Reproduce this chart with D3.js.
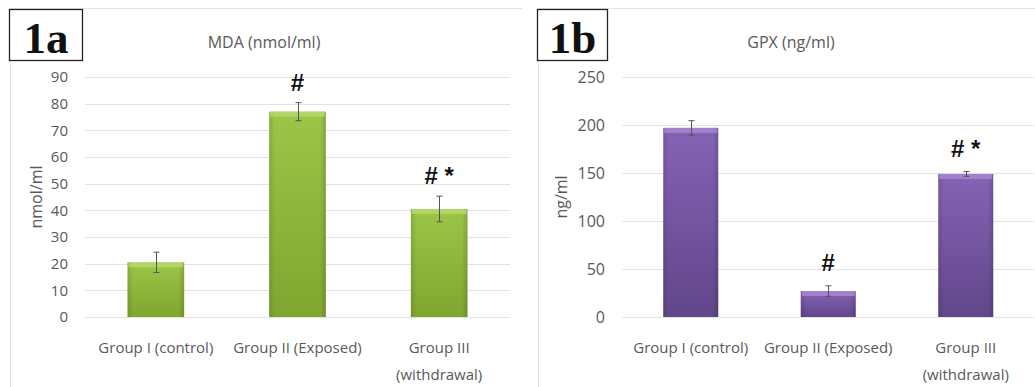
<!DOCTYPE html>
<html><head><meta charset="utf-8">
<script src="https://cdn.jsdelivr.net/npm/d3@7"></script>
<style>
body{margin:0;background:#fff;}
svg{display:block;}
</style></head>
<body><svg id="c" width="1035" height="387"></svg>
<script>
// ---- data ----
const categories = ["Group I (control)", "Group II (Exposed)", "Group III\n(withdrawal)"];
const mdaValues = [20.5, 77, 40.5];
const mdaErrors = [3.8, 3.4, 4.8];
const mdaSig = ["", "#", "# *"];
const mdaTicks = [0, 10, 20, 30, 40, 50, 60, 70, 80, 90];
const gpxValues = [197, 27, 149];
const gpxErrors = [7.5, 5.5, 2.5];
const gpxSig = ["", "#", "# *"];
const gpxTicks = [0, 50, 100, 150, 200, 250];

const SANS = "'Open Sans', Lato, sans-serif";
const svg = d3.select("#c");
const defs = svg.append("defs");

function grad(id, c0, c1) {
  const g = defs.append("linearGradient").attr("id", id).attr("x1", 0).attr("y1", 0).attr("x2", 0).attr("y2", 1);
  g.append("stop").attr("offset", "0%").attr("stop-color", c0);
  g.append("stop").attr("offset", "100%").attr("stop-color", c1);
  const h = defs.append("linearGradient").attr("id", id + "h").attr("x1", 0).attr("y1", 0).attr("x2", 1).attr("y2", 0);
  h.append("stop").attr("offset", "0%").attr("stop-color", "#000").attr("stop-opacity", 0.12);
  h.append("stop").attr("offset", "10%").attr("stop-color", "#000").attr("stop-opacity", 0);
  h.append("stop").attr("offset", "90%").attr("stop-color", "#000").attr("stop-opacity", 0);
  h.append("stop").attr("offset", "100%").attr("stop-color", "#000").attr("stop-opacity", 0.15);
}
grad("gGreen", "#9cc548", "#7fa62f");
grad("gPurple", "#8563b6", "#62468a");

function panel(opt) {
  const g = svg.append("g");
  // frame
  g.append("path").attr("d", `M${opt.frameX0},387 V${8.5} H${opt.frameX1}`)
    .attr("fill", "none").attr("stroke", "#e3e3e3").attr("stroke-width", 1);
  // label box
  g.append("rect").attr("x", opt.boxX + 0.5).attr("y", 9.5).attr("width", opt.boxW).attr("height", 51)
    .attr("fill", "#fff").attr("stroke", "#222").attr("stroke-width", 1.3);
  g.append("text").attr("x", opt.boxX + opt.boxW / 2 + 0.5).attr("y", 53).attr("text-anchor", "middle")
    .style("font-family", "'Liberation Serif','DejaVu Serif',serif")
    .attr("font-weight", "bold").attr("font-size", 45).attr("fill", "#111").text(opt.label);
  // title
  g.append("text").attr("x", opt.titleX).attr("y", 48).attr("text-anchor", "middle")
    .style("font-family", SANS).attr("font-size", opt.titleSize).attr("fill", "#595959").text(opt.title);

  const x = d3.scaleBand().domain(categories).range([opt.x0, opt.x1]).paddingInner(0.6).paddingOuter(0.3);
  const y = d3.scaleLinear().domain([0, opt.max]).range([317, 77]);

  // gridlines
  g.append("g").selectAll("line").data(opt.ticks).join("line")
    .attr("x1", opt.x0).attr("x2", opt.x1)
    .attr("y1", d => Math.round(y(d)) + 0.5).attr("y2", d => Math.round(y(d)) + 0.5)
    .attr("stroke", "#e2e2e2").attr("stroke-width", 1);

  // y axis ticks
  const ya = d3.axisLeft(y).tickValues(opt.ticks).tickSize(0).tickPadding(0);
  const yg = g.append("g").attr("transform", `translate(${opt.tickRight},0)`).call(ya);
  yg.select(".domain").remove();
  yg.attr("font-family", null).attr("font-size", null);
  yg.selectAll("text").attr("font-size", opt.tickSize).attr("fill", "#595959").style("font-family", SANS);

  // y title
  g.append("text").attr("transform", `translate(${opt.yTitleX},197) rotate(-90)`).attr("text-anchor", "middle")
    .style("font-family", SANS).attr("font-size", opt.yTitleSize).attr("fill", "#595959").text(opt.yTitle);

  // x labels
  const xa = d3.axisBottom(x).tickSize(0).tickPadding(0).tickFormat(() => "");
  const xg = g.append("g").attr("transform", "translate(0,317)").call(xa);
  xg.select(".domain").remove();
  xg.selectAll(".tick").each(function(d) {
    const lines = d.split("\n");
    const t = d3.select(this).append("text").attr("text-anchor", "middle").attr("font-size", opt.xSize)
      .attr("fill", "#595959").style("font-family", SANS);
    lines.forEach((l, i) => t.append("tspan").attr("x", 0).attr("y", 36 + i * 27).text(l));
  });

  // bars
  const bw = x.bandwidth();
  const bars = g.append("g").selectAll("g").data(opt.values).join("g");
  bars.append("rect").attr("x", (d, i) => x(categories[i])).attr("y", d => y(d))
    .attr("width", bw).attr("height", d => y(0) - y(d)).attr("fill", `url(#${opt.grad})`);
  bars.append("rect").attr("x", (d, i) => x(categories[i])).attr("y", d => y(d))
    .attr("width", bw).attr("height", d => y(0) - y(d)).attr("fill", `url(#${opt.grad}h)`);
  // top bevel
  bars.append("rect").attr("x", (d, i) => x(categories[i]) + 1).attr("y", d => y(d))
    .attr("width", bw - 2).attr("height", 5).attr("fill", opt.bevel).attr("opacity", 0.8);

  // error bars
  const eb = g.append("g").attr("stroke", "#555").attr("stroke-width", 1);
  opt.values.forEach((v, i) => {
    const cx = Math.round(x(categories[i]) + bw / 2) + 0.5;
    const e = opt.errors[i];
    eb.append("line").attr("x1", cx).attr("x2", cx).attr("y1", y(v + e)).attr("y2", y(v - e));
    eb.append("line").attr("x1", cx - 3).attr("x2", cx + 3).attr("y1", y(v + e)).attr("y2", y(v + e));
    eb.append("line").attr("x1", cx - 3).attr("x2", cx + 3).attr("y1", y(v - e)).attr("y2", y(v - e));
  });

  // significance marks
  opt.sig.forEach((s, i) => {
    if (!s) return;
    const cx = x(categories[i]) + bw / 2;
    const ty = y(opt.values[i] + opt.errors[i]) - opt.sigGap;
    g.append("text").attr("x", cx).attr("y", ty).attr("text-anchor", "middle")
      .attr("font-size", 24).attr("font-weight", "bold").attr("fill", "#111")
      .style("font-family", "'Liberation Sans',Arial,sans-serif")
      .style("white-space", "pre").text(s.replace(" ", "\u00a0"));
  });
}

panel({
  frameX0: 10.5, frameX1: 522, boxX: 9, boxW: 73, label: "1a", title: "MDA (nmol/ml)", titleX: 264,
  x0: 85, x1: 510, max: 90, ticks: mdaTicks, tickRight: 68, yTitleX: 42, yTitle: "nmol/ml",
  values: mdaValues, errors: mdaErrors, sig: mdaSig, grad: "gGreen", bevel: "#b7da72", sigGap: 12,
  titleSize: 16, tickSize: 15, yTitleSize: 16, xSize: 15
});
panel({
  frameX0: 538.5, frameX1: 1035, boxX: 537, boxW: 70, label: "1b", title: "GPX (ng/ml)", titleX: 791,
  x0: 622, x1: 1034.5, max: 250, ticks: gpxTicks, tickRight: 605, yTitleX: 567, yTitle: "ng/ml",
  values: gpxValues, errors: gpxErrors, sig: gpxSig, grad: "gPurple", bevel: "#a68bd1", sigGap: 15,
  titleSize: 16, tickSize: 16, yTitleSize: 16, xSize: 15
});
</script></body></html>
